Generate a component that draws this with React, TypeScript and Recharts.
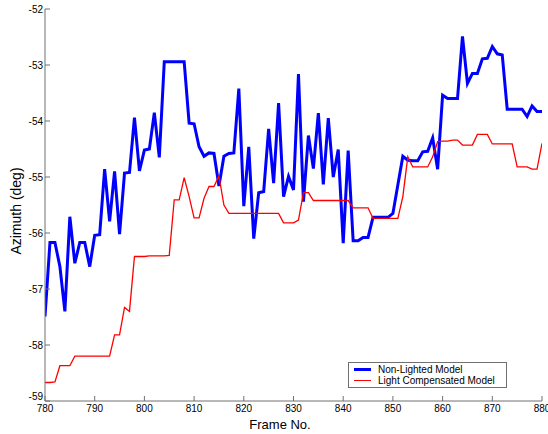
import React from 'react';
import { LineChart, Line, XAxis, YAxis } from 'recharts';

const frames = [
  780, 781, 782, 783, 784, 785, 786, 787, 788, 789,
  790, 791, 792, 793, 794, 795, 796, 797, 798, 799,
  800, 801, 802, 803, 804, 805, 806, 807, 808, 809,
  810, 811, 812, 813, 814, 815, 816, 817, 818, 819,
  820, 821, 822, 823, 824, 825, 826, 827, 828, 829,
  830, 831, 832, 833, 834, 835, 836, 837, 838, 839,
  840, 841, 842, 843, 844, 845, 846, 847, 848, 849,
  850, 851, 852, 853, 854, 855, 856, 857, 858, 859,
  860, 861, 862, 863, 864, 865, 866, 867, 868, 869,
  870, 871, 872, 873, 874, 875, 876, 877, 878, 879,
  880,
];

const nonLighted = [
  -57.49, -56.17, -56.17, -56.6, -57.4, -55.71, -56.54, -56.17, -56.17, -56.6,
  -56.04, -56.03, -54.86, -55.79, -54.9, -56.02, -54.93, -54.92, -53.94, -54.89,
  -54.52, -54.5, -53.85, -54.65, -52.94, -52.94, -52.94, -52.94, -52.94, -54.04,
  -54.05, -54.46, -54.63, -54.57, -54.58, -55.16, -54.63, -54.58, -54.57, -53.42,
  -55.52, -54.46, -56.1, -55.28, -55.26, -54.14, -55.11, -53.68, -55.35, -54.99,
  -55.23, -53.16, -55.44, -54.26, -54.85, -53.86, -55.13, -53.95, -55.0, -54.51,
  -56.18, -54.53, -56.14, -56.14, -56.08, -56.08, -55.72, -55.72, -55.72, -55.72,
  -55.65, -55.14, -54.63, -54.7, -54.71, -54.71, -54.55, -54.54, -54.3, -54.86,
  -53.54, -53.6, -53.6, -53.6, -52.49, -53.33, -53.15, -53.15, -52.89, -52.88,
  -52.67, -52.8, -52.82, -53.79, -53.79, -53.79, -53.79, -53.92, -53.73, -53.83,
  -53.83,
];

const lightCompensated = [
  -58.67, -58.67, -58.66, -58.37, -58.37, -58.37, -58.2, -58.2, -58.2, -58.2,
  -58.2, -58.2, -58.2, -58.2, -57.82, -57.82, -57.33, -57.4, -56.42, -56.42,
  -56.42, -56.41, -56.41, -56.41, -56.41, -56.4, -55.41, -55.41, -55.01, -55.35,
  -55.73, -55.73, -55.38, -55.17, -55.17, -54.98, -55.5, -55.65, -55.65, -55.65,
  -55.65, -55.65, -55.65, -55.65, -55.65, -55.65, -55.65, -55.65, -55.82, -55.82,
  -55.82, -55.77, -55.28, -55.28, -55.42, -55.42, -55.42, -55.42, -55.42, -55.42,
  -55.42, -55.42, -55.55, -55.55, -55.55, -55.55, -55.74, -55.74, -55.74, -55.74,
  -55.74, -55.74, -55.35, -54.64, -54.82, -54.82, -54.82, -54.82, -54.64, -54.37,
  -54.36, -54.36, -54.34, -54.34, -54.43, -54.43, -54.43, -54.24, -54.24, -54.24,
  -54.41, -54.41, -54.41, -54.41, -54.41, -54.82, -54.82, -54.82, -54.86, -54.86,
  -54.4,
];

const xTicks = [780, 790, 800, 810, 820, 830, 840, 850, 860, 870, 880];
const yTicks = [-59, -58, -57, -56, -55, -54, -53, -52];

const seriesNames = ['Non-Lighted Model', 'Light Compensated Model'];
const seriesColors = ['#0000ff', '#ff0000'];

const data = frames.map((f, i) => ({
  frame: f,
  nonLighted: nonLighted[i],
  lightCompensated: lightCompensated[i],
}));

const FONT = 'Liberation Sans, Arial, Helvetica, sans-serif';
const AXIS = '#707070';
const tickStyle = { fill: '#000', fontSize: 10, fontFamily: FONT };

const YTick = (props: any) => {
  const { x, y, payload, index } = props;
  const shift = index === 0 ? -5 : 0;
  return (
    <text x={x} y={y + shift} dy="0.355em" textAnchor="end" fill="#000" fontSize={10} fontFamily={FONT}>
      {payload.value}
    </text>
  );
};

export default function App() {
  return (
    <div style={{ position: 'absolute', left: 0, top: 0, width: 548, height: 434, background: '#fff', overflow: 'hidden' }}>
      <LineChart
        width={548}
        height={434}
        data={data}
        margin={{ top: 9, right: 6, left: 0, bottom: 0 }}
      >
        <XAxis
          xAxisId="bottom"
          dataKey="frame"
          type="number"
          domain={[780, 880]}
          ticks={xTicks}
          height={33}
          tickSize={-5}
          tickMargin={9}
          tick={tickStyle}
          stroke={AXIS}
          axisLine={{ stroke: AXIS }}
          tickLine={{ stroke: AXIS }}
          interval={0}
          allowDataOverflow
          label={{
            content: () => (
              <text x={280} y={429} textAnchor="middle" fontSize={13} fontFamily={FONT} fill="#000">
                Frame No.
              </text>
            ),
          }}
        />
        <XAxis
          xAxisId="top"
          orientation="top"
          dataKey="frame"
          type="number"
          domain={[780, 880]}
          ticks={xTicks}
          height={0}
          tickSize={-5}
          tickFormatter={() => ''}
          stroke={AXIS}
          axisLine={{ stroke: AXIS }}
          tickLine={{ stroke: AXIS }}
          interval={0}
          allowDataOverflow
        />
        <YAxis
          yAxisId="left"
          type="number"
          domain={[-59, -52]}
          ticks={yTicks}
          width={45}
          tickSize={-5}
          tickMargin={7}
          tick={<YTick />}
          stroke={AXIS}
          axisLine={{ stroke: AXIS }}
          tickLine={{ stroke: AXIS }}
          interval={0}
          allowDataOverflow
          label={{
            content: () => (
              <text
                x={21}
                y={211}
                textAnchor="middle"
                fontSize={14}
                fontFamily={FONT}
                fill="#000"
                transform="rotate(-90, 21, 211)"
              >
                Azimuth (deg)
              </text>
            ),
          }}
        />
        <YAxis
          yAxisId="right"
          orientation="right"
          type="number"
          domain={[-59, -52]}
          ticks={yTicks}
          width={0}
          tickSize={-5}
          tickFormatter={() => ''}
          stroke={AXIS}
          axisLine={{ stroke: AXIS }}
          tickLine={{ stroke: AXIS }}
          interval={0}
          allowDataOverflow
        />
        <Line
          xAxisId="bottom"
          yAxisId="left"
          type="linear"
          dataKey="nonLighted"
          name={seriesNames[0]}
          stroke={seriesColors[0]}
          strokeWidth={3}
          dot={false}
          isAnimationActive={false}
        />
        <Line
          xAxisId="bottom"
          yAxisId="left"
          type="linear"
          dataKey="lightCompensated"
          name={seriesNames[1]}
          stroke={seriesColors[1]}
          strokeWidth={1.3}
          dot={false}
          isAnimationActive={false}
        />
      </LineChart>
      <div
        style={{
          position: 'absolute',
          left: 348,
          top: 362,
          width: 157,
          height: 24,
          border: `1px solid ${AXIS}`,
          background: '#fff',
          fontFamily: FONT,
          fontSize: 10,
          color: '#000',
          boxSizing: 'content-box',
        }}
      >
        {seriesNames.map((name, i) => (
          <div key={name} style={{ position: 'absolute', left: 0, top: 1 + i * 11, height: 11, display: 'flex', alignItems: 'center', whiteSpace: 'nowrap' }}>
            <div style={{ width: 17, height: 0, marginLeft: 5, borderTop: `${i === 0 ? 3 : 1.3}px solid ${seriesColors[i]}` }} />
            <span style={{ marginLeft: 7, lineHeight: '11px' }}>{name}</span>
          </div>
        ))}
      </div>
    </div>
  );
}
